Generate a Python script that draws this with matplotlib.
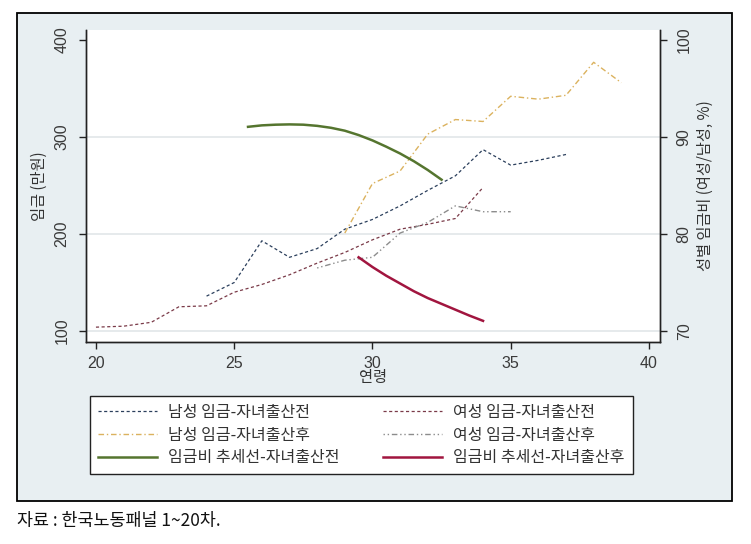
import matplotlib
matplotlib.use('Agg')
import matplotlib.pyplot as plt
from matplotlib.patches import Rectangle

plt.rcParams['font.family'] = ['Noto Sans CJK KR', 'DejaVu Sans']

# 연령별 평균 임금 (만원)
age_male_before = [24, 25, 26, 27, 28, 29, 30, 31, 32, 33, 34, 35, 36, 37]
male_before = [136, 150, 193, 176, 185, 205, 215, 229, 245, 260, 287, 271, 276, 282]

age_female_before = [20, 21, 22, 23, 24, 25, 26, 27, 28, 29, 30, 31, 32, 33, 34]
female_before = [104, 105, 109, 125, 126, 140, 148, 158, 170, 181, 194, 205, 210, 216, 248]

age_male_after = [29, 30, 31, 32, 33, 34, 35, 36, 37, 38, 39]
male_after = [201, 252, 265, 303, 318, 316, 342, 339, 343, 377, 356]

age_female_after = [28, 29, 30, 31, 32, 33, 34, 35]
female_after = [165, 173, 176, 201, 212, 229, 223, 223]

# 성별 임금비 추세선 (%)
age_trend_before = [25.5, 26, 26.5, 27, 27.5, 28, 28.5, 29, 29.5, 30, 30.5, 31, 31.5, 32, 32.5]
trend_before = [91.05, 91.2, 91.27, 91.3, 91.27, 91.15, 90.95, 90.65, 90.2, 89.65, 89.0, 88.3, 87.5, 86.6, 85.6]

age_trend_after = [29.5, 30, 30.5, 31, 31.5, 32, 32.5, 33, 33.5, 34]
trend_after = [77.6, 76.6, 75.7, 74.9, 74.1, 73.4, 72.8, 72.2, 71.6, 71.05]

x_ticks = [20, 25, 30, 35, 40]
left_ticks = [100, 200, 300, 400]
right_ticks = [70, 80, 90, 100]
grid_vals = [100, 200, 300]

labels = ['남성 임금-자녀출산전', '여성 임금-자녀출산전',
          '남성 임금-자녀출산후', '여성 임금-자녀출산후',
          '임금비 추세선-자녀출산전', '임금비 추세선-자녀출산후']

fig = plt.figure(figsize=(7.51, 5.44), dpi=100)
fig.patch.set_facecolor('white')

# stata style graph region with black frame
frame = Rectangle((17 / 751, 1 - 501 / 544), 715 / 751, 488 / 544, transform=fig.transFigure,
                  facecolor='#e8eff2', edgecolor='black', linewidth=1.3, zorder=-10)
fig.add_artist(frame)

ax = fig.add_axes([86 / 751, 1 - 342 / 544, 574 / 751, 312 / 544])
ax.set_facecolor('white')
ax2 = ax.twinx()

for g in grid_vals:
    ax.axhline(g, color='#e6eaec', lw=1.4, zorder=0)

l1, = ax.plot(age_male_before, male_before, color='#2b3f5c', lw=0.9, dashes=(2.5, 2))
l2, = ax.plot(age_female_before, female_before, color='#7a3a48', lw=0.9, dashes=(2.5, 2))
l3, = ax.plot(age_male_after, male_after, color='#dbb25e', lw=1.0, dashes=(4, 2, 1, 2))
l4, = ax.plot(age_female_after, female_after, color='#8c8c8c', lw=1.0, dashes=(1, 2, 1, 2, 4, 2))
l5, = ax2.plot(age_trend_before, trend_before, color='#55752f', lw=1.8)
l6, = ax2.plot(age_trend_after, trend_after, color='#a1153f', lw=1.8)

ax.set_xlim(19.64, 40.4)
ax.set_ylim(88.7, 410.3)
ax2.set_ylim(68.87, 101.03)

ax.set_xticks(x_ticks)
ax.set_yticks(left_ticks)
ax2.set_yticks(right_ticks)

for a in (ax, ax2):
    a.spines['top'].set_visible(False)
    for s in a.spines.values():
        s.set_color('#222222')
        s.set_linewidth(1.0)
    a.tick_params(direction='out', length=5, width=1, color='#222222', labelsize=11.5,
                  labelcolor='#3a3a3a')
    for lab in a.get_xticklabels() + a.get_yticklabels():
        lab.set_family(['Liberation Sans', 'DejaVu Sans'])

ax.tick_params(axis='y', pad=7)
ax2.tick_params(axis='y', pad=7)
ax.tick_params(axis='x', pad=5)
for lab in ax.get_yticklabels() + ax2.get_yticklabels():
    lab.set_rotation(90)
    lab.set_va('center')

ax.set_xlabel('연령', fontsize=11, color='#333333')
ax.set_ylabel('임금 (만원)', fontsize=11, color='#333333')
ax2.set_ylabel('성별 임금비 (여성/남성, %)', fontsize=11, color='#333333', rotation=90)
ax.xaxis.set_label_coords(0.5, -0.088)
ax.yaxis.set_label_coords(-0.066, 0.5)
ax2.yaxis.set_label_coords(1.065, 0.5)

# row-wise order for a two column legend
order = [0, 2, 4, 1, 3, 5]
handles = [l1, l2, l3, l4, l5, l6]
leg = fig.legend([handles[i] for i in order], [labels[i] for i in order], ncol=2,
                 bbox_to_anchor=(90 / 751, 1 - 396 / 544),
                 loc='upper left', borderaxespad=0, fontsize=11.5, handlelength=3.7,
                 handletextpad=0.7, labelspacing=0.36, borderpad=0.5, columnspacing=2.7,
                 fancybox=False, edgecolor='#222222', framealpha=1)
leg.get_frame().set_linewidth(1.0)
for t in leg.get_texts():
    t.set_color('#333333')

fig.text(17 / 751, 1 - 521 / 544, '자료 : 한국노동패널 1~20차.', fontsize=12.5,
         va='center', ha='left', color='#111111')

fig.savefig('out.png', dpi=100)
